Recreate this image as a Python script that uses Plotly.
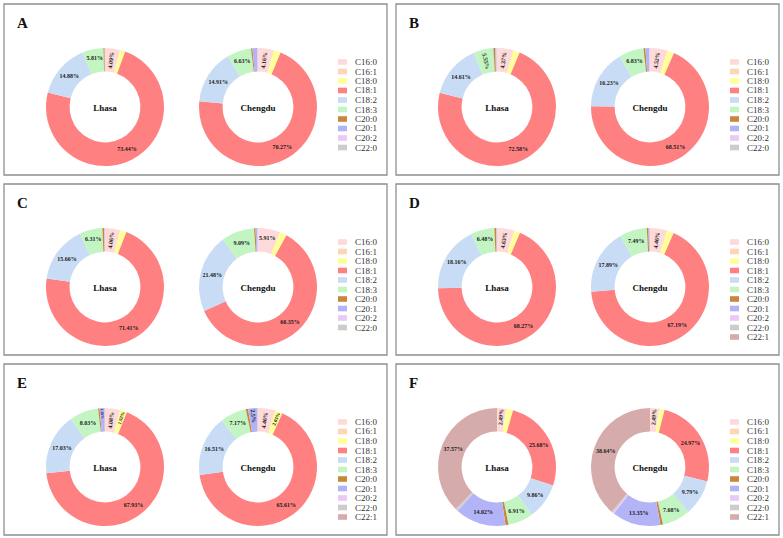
import plotly.graph_objects as go

W, H = 783, 538
FONT = "Liberation Serif, Times New Roman, serif"

# ---- categories ----
acids10 = ["C16:0", "C16:1", "C18:0", "C18:1", "C18:2", "C18:3", "C20:0", "C20:1", "C20:2", "C22:0"]
acids11 = acids10 + ["C22:1"]
colors11 = ["#FFDADA", "#FFD6B3", "#FFFF99", "#FF8080", "#C9DCF5", "#C2F5C2",
            "#C8873C", "#B3B3F7", "#EAC8F7", "#CCCCCC", "#D6ABAB"]
sites = ["Lhasa", "Chengdu"]
panel_names = ["A", "B", "C", "D", "E", "F"]

# ---- values (%) ----
A_lhasa   = [4.09, 0.08, 1.40, 73.44, 14.88, 5.81, 0.30, 0.05, 0.03, 0.03]
A_chengdu = [4.16, 0.20, 1.90, 70.27, 14.91, 6.63, 0.40, 1.30, 0.10, 0.10]
B_lhasa   = [4.37, 0.20, 1.70, 72.58, 14.61, 5.55, 0.50, 0.30, 0.10, 0.09]
B_chengdu = [4.52, 0.25, 1.90, 68.51, 16.23, 6.83, 0.50, 1.00, 0.15, 0.11]
C_lhasa   = [4.06, 0.15, 1.70, 71.41, 15.66, 6.31, 0.50, 0.10, 0.05, 0.06]
C_chengdu = [5.91, 0.20, 1.90, 60.35, 21.48, 9.09, 0.40, 0.50, 0.10, 0.07]
D_lhasa   = [4.63, 0.15, 1.60, 68.27, 18.16, 6.48, 0.50, 0.10, 0.05, 0.03, 0.03]
D_chengdu = [4.46, 0.20, 1.90, 67.19, 17.89, 7.49, 0.45, 0.30, 0.06, 0.03, 0.03]
E_lhasa   = [4.08, 0.10, 1.92, 67.93, 17.03, 8.03, 0.40, 1.38, 0.05, 0.03, 0.03]
E_chengdu = [4.46, 0.25, 2.03, 65.61, 16.51, 7.17, 0.60, 2.50, 0.10, 0.05, 0.05]
F_lhasa   = [2.49, 0.10, 1.80, 25.68, 9.86, 6.91, 0.80, 14.02, 0.10, 0.60, 37.57]
F_chengdu = [2.49, 0.10, 1.40, 24.97, 9.79, 7.68, 0.70, 13.35, 0.30, 0.50, 38.64]

# indices of the slices that carry a percentage label
A_lhasa_shown   = [0, 3, 4, 5]
A_chengdu_shown = [0, 3, 4, 5]
B_lhasa_shown   = [0, 3, 4, 5]
B_chengdu_shown = [0, 3, 4, 5]
C_lhasa_shown   = [0, 3, 4, 5]
C_chengdu_shown = [0, 3, 4, 5]
D_lhasa_shown   = [0, 3, 4, 5]
D_chengdu_shown = [0, 3, 4, 5]
E_lhasa_shown   = [0, 2, 3, 4, 5, 7]
E_chengdu_shown = [0, 2, 3, 4, 5, 7]
F_lhasa_shown   = [0, 3, 4, 5, 7, 10]
F_chengdu_shown = [0, 3, 4, 5, 7, 10]

series = {
    "A": [(A_lhasa, A_lhasa_shown), (A_chengdu, A_chengdu_shown)],
    "B": [(B_lhasa, B_lhasa_shown), (B_chengdu, B_chengdu_shown)],
    "C": [(C_lhasa, C_lhasa_shown), (C_chengdu, C_chengdu_shown)],
    "D": [(D_lhasa, D_lhasa_shown), (D_chengdu, D_chengdu_shown)],
    "E": [(E_lhasa, E_lhasa_shown), (E_chengdu, E_chengdu_shown)],
    "F": [(F_lhasa, F_lhasa_shown), (F_chengdu, F_chengdu_shown)],
}

# ---- layout geometry (pixels) ----
col_left = [4, 396]
row_top = [4, 184, 364]
panel_w, panel_h = 383, 171
pie_dx = [101, 254]
pie_dy = 103
pie_r = 59


def fx(px):
    return px / W


def fy(py):
    return 1 - py / H


fig = go.Figure()
shapes = []
annotations = []

for k, name in enumerate(panel_names):
    left = col_left[k % 2]
    top = row_top[k // 2]
    # panel border
    shapes.append(dict(type="rect", xref="paper", yref="paper",
                       x0=fx(left), x1=fx(left + panel_w),
                       y0=fy(top + panel_h), y1=fy(top),
                       line=dict(color="#8f8f8f", width=1.3), fillcolor="rgba(0,0,0,0)"))
    # panel letter
    annotations.append(dict(text="<b>%s</b>" % name, xref="paper", yref="paper",
                            x=fx(left + 11), y=fy(top + 19), xanchor="left", yanchor="middle",
                            showarrow=False, font=dict(family=FONT, size=15, color="#111")))
    for j, (vals, shown) in enumerate(series[name]):
        labels = acids11[:len(vals)]
        texts = ["<b>%g%%</b>" % v if i in shown else "" for i, v in enumerate(vals)]
        cx = left + pie_dx[j]
        cy = top + pie_dy
        fig.add_trace(go.Pie(
            labels=labels, values=vals, sort=False, direction="clockwise", rotation=0,
            hole=0.6, marker=dict(colors=colors11[:len(vals)], line=dict(width=0)),
            text=texts, textinfo="text", textposition="inside",
            insidetextorientation="auto",
            textfont=dict(family=FONT, size=6, color="#1a1a1a"),
            title=dict(text="<b>%s</b>" % sites[j], position="middle center",
                       font=dict(family=FONT, size=9, color="#111")),
            domain=dict(x=[fx(cx - pie_r), fx(cx + pie_r)], y=[fy(cy + pie_r), fy(cy - pie_r)]),
            showlegend=False, hoverinfo="label+percent", name=sites[j],
        ))
    # legend
    n = len(series[name][0][0])
    for i in range(n):
        yy = top + 58 + i * 9.5
        shapes.append(dict(type="rect", xref="paper", yref="paper",
                           x0=fx(left + 334), x1=fx(left + 343),
                           y0=fy(yy + 2.8), y1=fy(yy - 2.8),
                           line=dict(width=0), fillcolor=colors11[i]))
        annotations.append(dict(text=acids11[i], xref="paper", yref="paper",
                                x=fx(left + 349), y=fy(yy), xanchor="left", yanchor="middle",
                                showarrow=False, font=dict(family=FONT, size=9, color="#333")))

fig.update_layout(
    width=W, height=H, margin=dict(l=0, r=0, t=0, b=0),
    paper_bgcolor="white", plot_bgcolor="white",
    shapes=shapes, annotations=annotations, showlegend=False,
)

fig.write_html("out.html")
